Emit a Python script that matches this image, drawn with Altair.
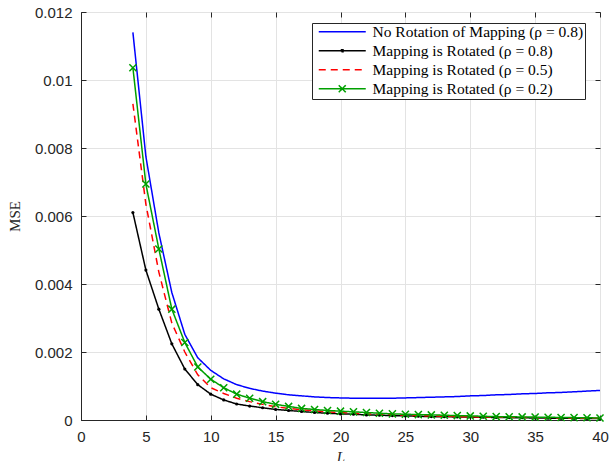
import altair as alt
import pandas as pd

L_values = list(range(4, 41))

series_names = [
    "No Rotation of Mapping (ρ = 0.8)",
    "Mapping is Rotated (ρ = 0.8)",
    "Mapping is Rotated (ρ = 0.5)",
    "Mapping is Rotated (ρ = 0.2)",
]

mse_no_rot_08 = [
    0.01140, 0.00775, 0.00550, 0.00375, 0.00252, 0.00183, 0.00146, 0.00121,
    0.00104, 0.00093, 0.00085, 0.00079, 0.00074, 0.00071, 0.00068, 0.00066,
    0.00065, 0.00064, 0.00064, 0.00064, 0.00064, 0.00065, 0.00066, 0.00067,
    0.00068, 0.00069, 0.00071, 0.00072, 0.00074, 0.00075, 0.00077, 0.00078,
    0.00080, 0.00081, 0.00083, 0.00085, 0.00087,
]
mse_rot_08 = [
    0.00610, 0.00441, 0.00326, 0.00224, 0.00150, 0.00104, 0.00076, 0.00059,
    0.00047, 0.00041, 0.00036, 0.00031, 0.00028, 0.00025, 0.00022, 0.00020,
    0.00018, 0.00017, 0.00015, 0.00014, 0.00013, 0.00012, 0.00011, 0.00010,
    0.000095, 0.00009, 0.000085, 0.00008, 0.000075, 0.00007, 0.000065, 0.00006,
    0.000055, 0.00005, 0.00005, 0.000045, 0.00004,
]
mse_rot_05 = [
    0.00930, 0.00635, 0.00435, 0.00285, 0.00200, 0.00133, 0.00095, 0.00078,
    0.00064, 0.00054, 0.00046, 0.00039, 0.00034, 0.00030, 0.00027, 0.00024,
    0.00022, 0.00020, 0.00018, 0.00017, 0.00016, 0.00014, 0.00013, 0.00012,
    0.00011, 0.00010, 0.000095, 0.00009, 0.000085, 0.00008, 0.000075, 0.00007,
    0.000065, 0.00006, 0.000055, 0.00005, 0.00005,
]
mse_rot_02 = [
    0.01036, 0.00694, 0.00503, 0.00326, 0.00228, 0.00156, 0.00120, 0.00095,
    0.00076, 0.00064, 0.00054, 0.00046, 0.00040, 0.00034, 0.00031, 0.00028,
    0.00026, 0.00024, 0.00022, 0.00020, 0.00018, 0.00017, 0.00016, 0.00015,
    0.00014, 0.00013, 0.00012, 0.00011, 0.00010, 0.000095, 0.00009, 0.000085,
    0.00008, 0.000075, 0.00007, 0.000065, 0.00006,
]

x_ticks = [0, 5, 10, 15, 20, 25, 30, 35, 40]
y_ticks = [0, 0.002, 0.004, 0.006, 0.008, 0.01, 0.012]

colors = ["#0000FF", "#000000", "#FF0000", "#00A000"]
dashes = [[1, 0], [1, 0], [7, 5], [1, 0]]
legend_paths = [
    "M-0.4,0H9.0",
    "M-0.4,0H9.0M4.15,-0.2h0.3v0.4h-0.3z",
    "M-0.4,0H9.0",
    "M-0.4,0H9.0M3.6,-0.7L5.0,0.7M3.6,0.7L5.0,-0.7",
]

rows = []
for name, vals in zip(series_names, [mse_no_rot_08, mse_rot_08, mse_rot_05, mse_rot_02]):
    for L, v in zip(L_values, vals):
        rows.append({"L": L, "MSE": v, "series": name})
df = pd.DataFrame(rows)

AX = "#262626"
SANS = "Liberation Sans"
SERIF = "Liberation Serif"
W, H = 519, 408

x_scale = alt.Scale(domain=[0, 40], nice=False, zero=False)
y_scale = alt.Scale(domain=[0, 0.012], nice=False, zero=False)
color_scale = alt.Scale(domain=series_names, range=colors)
dash_scale = alt.Scale(domain=series_names, range=dashes)
shape_scale = alt.Scale(domain=series_names, range=legend_paths)

legend = alt.Legend(
    title=None, orient="none", legendX=231, legendY=11,
    fillColor="white", strokeColor=AX, padding=1, cornerRadius=0,
    labelFont=SERIF, labelFontSize=15.5, labelColor="#000000",
    symbolSize=100, symbolStrokeWidth=1.5, labelOffset=44,
    rowPadding=2, labelLimit=400,
)

main_x_axis = alt.Axis(
    values=x_ticks, title="L", titleFont=SERIF, titleFontStyle="italic",
    titleFontWeight="normal", titleFontSize=15, titleColor=AX, titlePadding=5,
    labelFont=SANS, labelFontSize=15, labelColor=AX, labelPadding=9,
    labelFlush=False, labelOverlap=False,
    ticks=False, tickSize=0, grid=True, gridColor="#E3E3E3",
    domainColor=AX, domainWidth=1,
)
main_y_axis = alt.Axis(
    values=y_ticks, format="~g", title="MSE", titleFont=SERIF,
    titleFontWeight="normal", titleFontSize=15, titleColor=AX, titlePadding=12,
    labelFont=SANS, labelFontSize=15, labelColor=AX, labelPadding=9,
    labelFlush=False, labelOverlap=False,
    ticks=False, tickSize=0, grid=True, gridColor="#E3E3E3",
    domainColor=AX, domainWidth=1,
)

def tick_axis(values, orient, offset):
    return alt.Axis(
        values=values, orient=orient, offset=offset, labels=False, title=None,
        grid=False, domain=False, ticks=True, tickSize=5, tickColor=AX,
        tickWidth=1,
    )

lines = alt.Chart(df).mark_line(strokeWidth=1.5, clip=True).encode(
    x=alt.X("L:Q", scale=x_scale, axis=main_x_axis),
    y=alt.Y("MSE:Q", scale=y_scale, axis=main_y_axis),
    color=alt.Color("series:N", scale=color_scale, legend=legend, sort=series_names),
    strokeDash=alt.StrokeDash("series:N", scale=dash_scale, legend=legend, sort=series_names),
)

black_dots = alt.Chart(df).transform_filter(
    alt.datum.series == series_names[1]
).mark_circle(size=10, color="#000000", opacity=1).encode(
    x=alt.X("L:Q", scale=x_scale, axis=tick_axis(x_ticks, "top", -H)),
    y=alt.Y("MSE:Q", scale=y_scale, axis=tick_axis(y_ticks, "right", -W)),
)

green_marks = alt.Chart(df).transform_filter(
    alt.datum.series == series_names[3]
).mark_point(
    shape="M-1,-1L1,1M-1,1L1,-1", size=50, color="#00A000", filled=False,
    strokeWidth=1.5, opacity=1,
).encode(
    x=alt.X("L:Q", scale=x_scale, axis=tick_axis(x_ticks, "bottom", -H)),
    y=alt.Y("MSE:Q", scale=y_scale, axis=tick_axis(y_ticks, "left", -W)),
)

legend_layer = alt.Chart(df).transform_filter("false").mark_point(
    filled=False, strokeWidth=1.5, opacity=1
).encode(
    color=alt.Color("series:N", scale=color_scale, legend=legend, sort=series_names),
    strokeDash=alt.StrokeDash("series:N", scale=dash_scale, legend=legend, sort=series_names),
    shape=alt.Shape("series:N", scale=shape_scale, legend=legend, sort=series_names),
)

chart = alt.layer(lines, black_dots, green_marks, legend_layer).resolve_scale(
    x="independent", y="independent"
).properties(
    width=W, height=H,
    autosize=alt.AutoSizeParams(type="none"),
    padding={"left": 81, "top": 12, "right": 13, "bottom": 41},
    background="white",
).configure_view(stroke=AX, strokeWidth=1)

chart.save("out.html", embed_options={"renderer": "svg", "actions": False})
